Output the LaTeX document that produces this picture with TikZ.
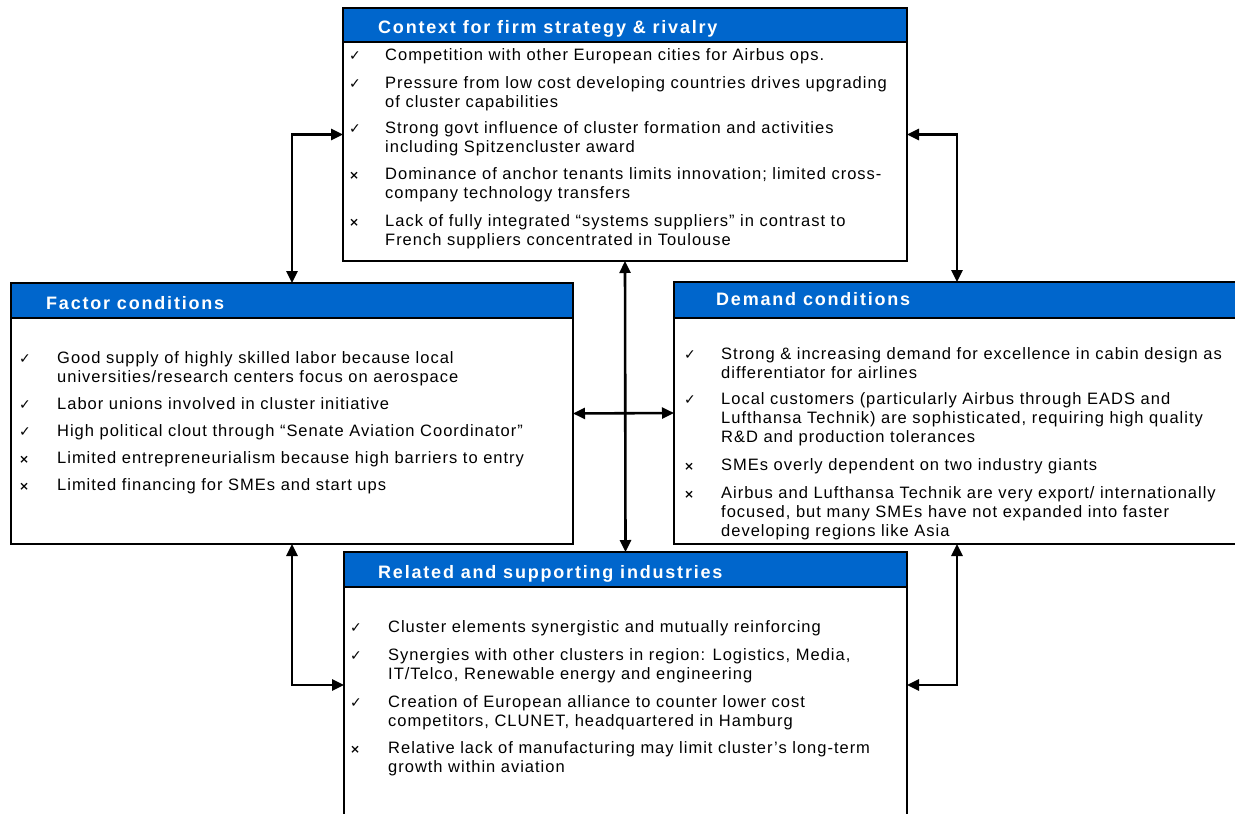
\documentclass[tikz,border=0pt]{standalone}
\usepackage{fontspec}
\setmainfont{Liberation Sans}[LetterSpace=6]
\newfontfamily\headfont{Liberation Sans}[LetterSpace=10]
\newfontfamily\symfont{DejaVu Sans}
\usetikzlibrary{arrows.meta}
\definecolor{bandblue}{RGB}{0,102,204}

\tikzset{
  x=1pt, y=-1pt,
  frame/.style={draw=black, line width=2.4pt, fill=white, inner sep=0pt, outer sep=0pt, anchor=north west},
  band/.style={draw=black, line width=2pt, fill=bandblue, inner sep=0pt, outer sep=0pt, anchor=north west},
  headtext/.style={anchor=base west, inner sep=0pt, text=white, font=\headfont\bfseries\fontsize{18}{20}\selectfont},
  % multi-line items are placed by the baseline of their last line
  item/.style={anchor=base west, inner sep=0pt, align=left, font=\fontsize{16.5}{19}\selectfont},
  okbul/.style={anchor=base west, inner sep=0pt, font=\symfont\fontsize{14}{14}\selectfont},
  nobul/.style={anchor=base west, inner sep=0pt, font=\symfont\bfseries\fontsize{12}{12}\selectfont},
  conn/.style={line width=2.6pt, {Triangle[length=12pt,width=11pt]}-{Triangle[length=12pt,width=11pt]}},
}

\begin{document}
\begin{tikzpicture}
\useasboundingbox (0,0) rectangle (1235,814);
\clip (0,0) rectangle (1235,814);

% the four boxes of the diamond
\node[frame, minimum width=564pt, minimum height=253pt] (ctx) at (343,8) {};
\node[frame, minimum width=562pt, minimum height=261pt] (fac) at (11,283) {};
\node[frame, minimum width=566pt, minimum height=262pt] (dem) at (674,282) {};
\node[frame, minimum width=563pt, minimum height=266pt] (rel) at (344,552) {};

% blue title bands
\node[band, minimum width=564pt, minimum height=34pt] (ctxh) at (343,8) {};
\node[band, minimum width=562pt, minimum height=35pt] (fach) at (11,283) {};
\node[band, minimum width=566pt, minimum height=36pt] (demh) at (674,282) {};
\node[band, minimum width=563pt, minimum height=35pt] (relh) at (344,552) {};

\node[headtext] (ctxt) at (378,33) {Context for firm strategy \& rivalry};
\node[headtext] (fact) at (46,309) {Factor conditions};
\node[headtext] (demt) at (716,305) {Demand conditions};
\node[headtext] (relt) at (378,578) {Related and supporting industries};

% context for firm strategy & rivalry
\node[okbul] (cb1) at (349,60) {✓};
\node[item] (c1) at (385,60) {Competition with other European cities for Airbus ops.};
\node[okbul] (cb2) at (349,88) {✓};
\node[item] (c2) at (385,107) {Pressure from low cost developing countries drives upgrading\\of cluster capabilities};
\node[okbul] (cb3) at (349,133) {✓};
\node[item] (c3) at (385,152) {Strong govt influence of cluster formation and activities\\including Spitzencluster award};
\node[nobul] (cb4) at (349,179) {×};
\node[item] (c4) at (385,198) {Dominance of anchor tenants limits innovation; limited cross-\\company technology transfers};
\node[nobul] (cb5) at (349,226) {×};
\node[item] (c5) at (385,245) {Lack of fully integrated “systems suppliers” in contrast to\\French suppliers concentrated in Toulouse};

% factor conditions
\node[okbul] (fb1) at (19,363) {✓};
\node[item] (f1) at (57,382) {Good supply of highly skilled labor because local\\universities/research centers focus on aerospace};
\node[okbul] (fb2) at (19,409) {✓};
\node[item] (f2) at (57,409) {Labor unions involved in cluster initiative};
\node[okbul] (fb3) at (19,436) {✓};
\node[item] (f3) at (57,436) {High political clout through “Senate Aviation Coordinator”};
\node[nobul] (fb4) at (19,463) {×};
\node[item] (f4) at (57,463) {Limited entrepreneurialism because high barriers to entry};
\node[nobul] (fb5) at (19,490) {×};
\node[item] (f5) at (57,490) {Limited financing for SMEs and start ups};

% demand conditions
\node[okbul] (db1) at (684,359) {✓};
\node[item] (d1) at (721,378) {Strong \& increasing demand for excellence in cabin design as\\differentiator for airlines};
\node[okbul] (db2) at (684,404) {✓};
\node[item] (d2) at (721,442) {Local customers (particularly Airbus through EADS and\\Lufthansa Technik) are sophisticated, requiring high quality\\R\&D and production tolerances};
\node[nobul] (db3) at (684,470) {×};
\node[item] (d3) at (721,470) {SMEs overly dependent on two industry giants};
\node[nobul] (db4) at (684,498) {×};
\node[item] (d4) at (721,536) {Airbus and Lufthansa Technik are very export/ internationally\\focused, but many SMEs have not expanded into faster\\developing regions like Asia};

% related and supporting industries
\node[okbul] (rb1) at (350,632) {✓};
\node[item] (r1) at (388,632) {Cluster elements synergistic and mutually reinforcing};
\node[okbul] (rb2) at (350,660) {✓};
\node[item] (r2) at (388,679) {Synergies with other clusters in region: Logistics, Media,\\IT/Telco, Renewable energy and engineering};
\node[okbul] (rb3) at (350,707) {✓};
\node[item] (r3) at (388,726) {Creation of European alliance to counter lower cost\\competitors, CLUNET, headquartered in Hamburg};
\node[nobul] (rb4) at (350,753) {×};
\node[item] (r4) at (388,772) {Relative lack of manufacturing may limit cluster’s long-term\\growth within aviation};

% two-way links between the boxes
\draw[conn] (fac.north) |- (ctx.west);
\draw[conn] (dem.north) |- (ctx.east);
\draw[conn] (ctx.south) -- (rel.north);
\draw[conn] (fac.east) -- (dem.west);
\draw[conn] (fac.south) |- (rel.west);
\draw[conn] (dem.south) |- (rel.east);
\end{tikzpicture}
\end{document}
